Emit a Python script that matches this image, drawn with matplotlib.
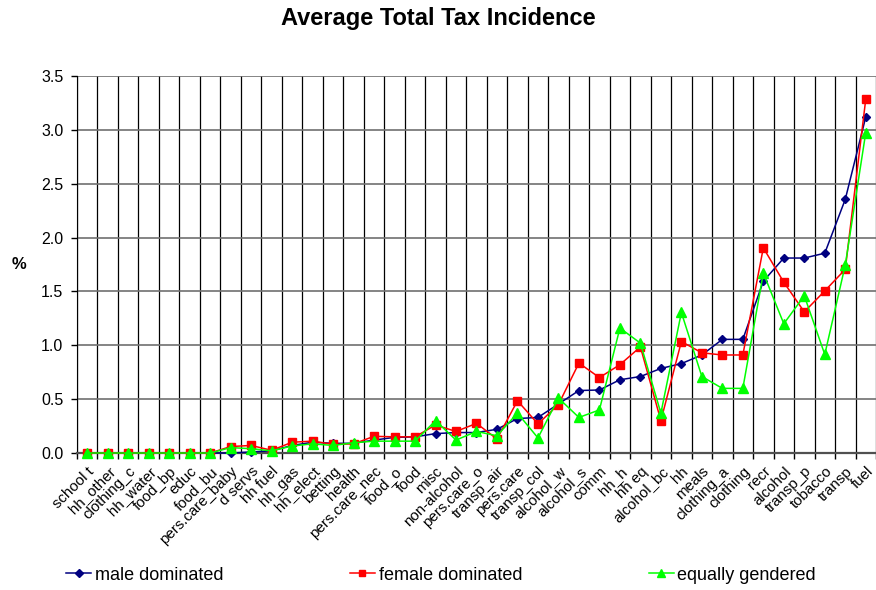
import matplotlib
matplotlib.use('Agg')
import matplotlib.pyplot as plt
from matplotlib.ticker import FormatStrFormatter, MultipleLocator

# Dados
categorias = ['school t', 'hh_other', 'clothing_c', 'hh_water', 'food_bp', 'educ',
              'food_bu', 'pers.care_baby', 'd servs', 'hh fuel', 'hh_gas', 'hh_elect',
              'betting', 'health', 'pers.care_nec', 'food_o', 'food', 'misc',
              'non-alcohol', 'pers.care_o', 'transp_air', 'pers.care', 'transp_col',
              'alcohol_w', 'alcohol_s', 'comm', 'hh_h', 'hh eq', 'alcohol_bc', 'hh',
              'meals', 'clothing_a', 'clothing', 'recr', 'alcohol', 'transp_p',
              'tobacco', 'transp', 'fuel']

male = [0, 0, 0, 0, 0, 0, 0, 0.0, 0.01, 0.02, 0.07, 0.10, 0.09, 0.09, 0.12,
        0.145, 0.15, 0.18, 0.19, 0.19, 0.22, 0.32, 0.33, 0.455, 0.58, 0.585,
        0.68, 0.71, 0.785, 0.83, 0.91, 1.055, 1.055, 1.595, 1.81, 1.81, 1.855,
        2.355, 3.12]

female = [0, 0, 0, 0, 0, 0, 0, 0.06, 0.07, 0.025, 0.10, 0.11, 0.08, 0.085, 0.155,
          0.15, 0.15, 0.26, 0.20, 0.275, 0.13, 0.485, 0.27, 0.45, 0.835, 0.70,
          0.82, 0.985, 0.30, 1.035, 0.93, 0.91, 0.91, 1.905, 1.585, 1.31, 1.505,
          1.705, 3.285]

equal = [0, 0, 0, 0, 0, 0, 0, 0.05, 0.04, 0.02, 0.065, 0.085, 0.07, 0.095, 0.11,
         0.11, 0.11, 0.30, 0.12, 0.20, 0.16, 0.37, 0.14, 0.51, 0.33, 0.40,
         1.16, 1.02, 0.37, 1.305, 0.71, 0.60, 0.60, 1.67, 1.20, 1.46, 0.915,
         1.745, 2.975]

x = list(range(len(categorias)))

plt.rcParams['font.family'] = ['Liberation Sans', 'DejaVu Sans']

fig = plt.figure(figsize=(8.76, 5.90), dpi=100)
ax = fig.add_axes([77/876, 137/590, (876-77)/876, (453-76)/590])

ax.plot(x, male, color='#000080', marker='D', markersize=4.5, linewidth=1.1,
        label='male dominated', clip_on=False, zorder=3)
ax.plot(x, female, color='#ff0000', marker='s', markersize=6, linewidth=1.1,
        label='female dominated', clip_on=False, zorder=4)
ax.plot(x, equal, color='#00ff00', marker='^', markersize=6.5, linewidth=1.1,
        label='equally gendered', clip_on=False, zorder=5)

ax.set_xlim(-0.5, -0.5 + (876-77)/20.55)
ax.set_ylim(0, 3.5)

ax.yaxis.set_major_locator(MultipleLocator(0.5))
ax.yaxis.set_major_formatter(FormatStrFormatter('%.1f'))
ax.tick_params(axis='y', labelsize=11.5, length=4.3, width=1, direction='out', pad=5.5)

ax.set_xticks(x)
ax.set_xticklabels(categorias, rotation=45, ha='right', rotation_mode='anchor',
                   fontsize=10.8)
ax.set_xticks([i - 0.5 for i in range(len(categorias) + 1)], minor=True)
ax.tick_params(axis='x', which='major', length=0, pad=8)
ax.tick_params(axis='x', which='minor', length=4, width=1, direction='out')

ax.grid(axis='y', which='major', color='#707070', linewidth=1.2)
ax.grid(axis='x', which='minor', color='black', linewidth=0.9)
ax.set_axisbelow(True)

for lado in ['top', 'right']:
    ax.spines[lado].set_visible(False)
ax.spines['left'].set_color('black')
ax.spines['bottom'].set_color('#505050')
ax.spines['bottom'].set_linewidth(1.6)

fig.text(0.5, 1 - 19/590, 'Average Total Tax Incidence', ha='center', va='center',
         fontsize=17, fontweight='bold')
fig.text(19.5/876, 1 - 264/590, '%', ha='center', va='center', fontsize=12,
         fontweight='bold')

fig.legend(loc='center left', bbox_to_anchor=(66/876, 1 - 575/590), ncol=3,
           frameon=False, fontsize=13, handlelength=1.4, handletextpad=0.2,
           columnspacing=7.0, borderaxespad=0, borderpad=0, markerscale=0.8)

fig.savefig('out.png', dpi=100)
